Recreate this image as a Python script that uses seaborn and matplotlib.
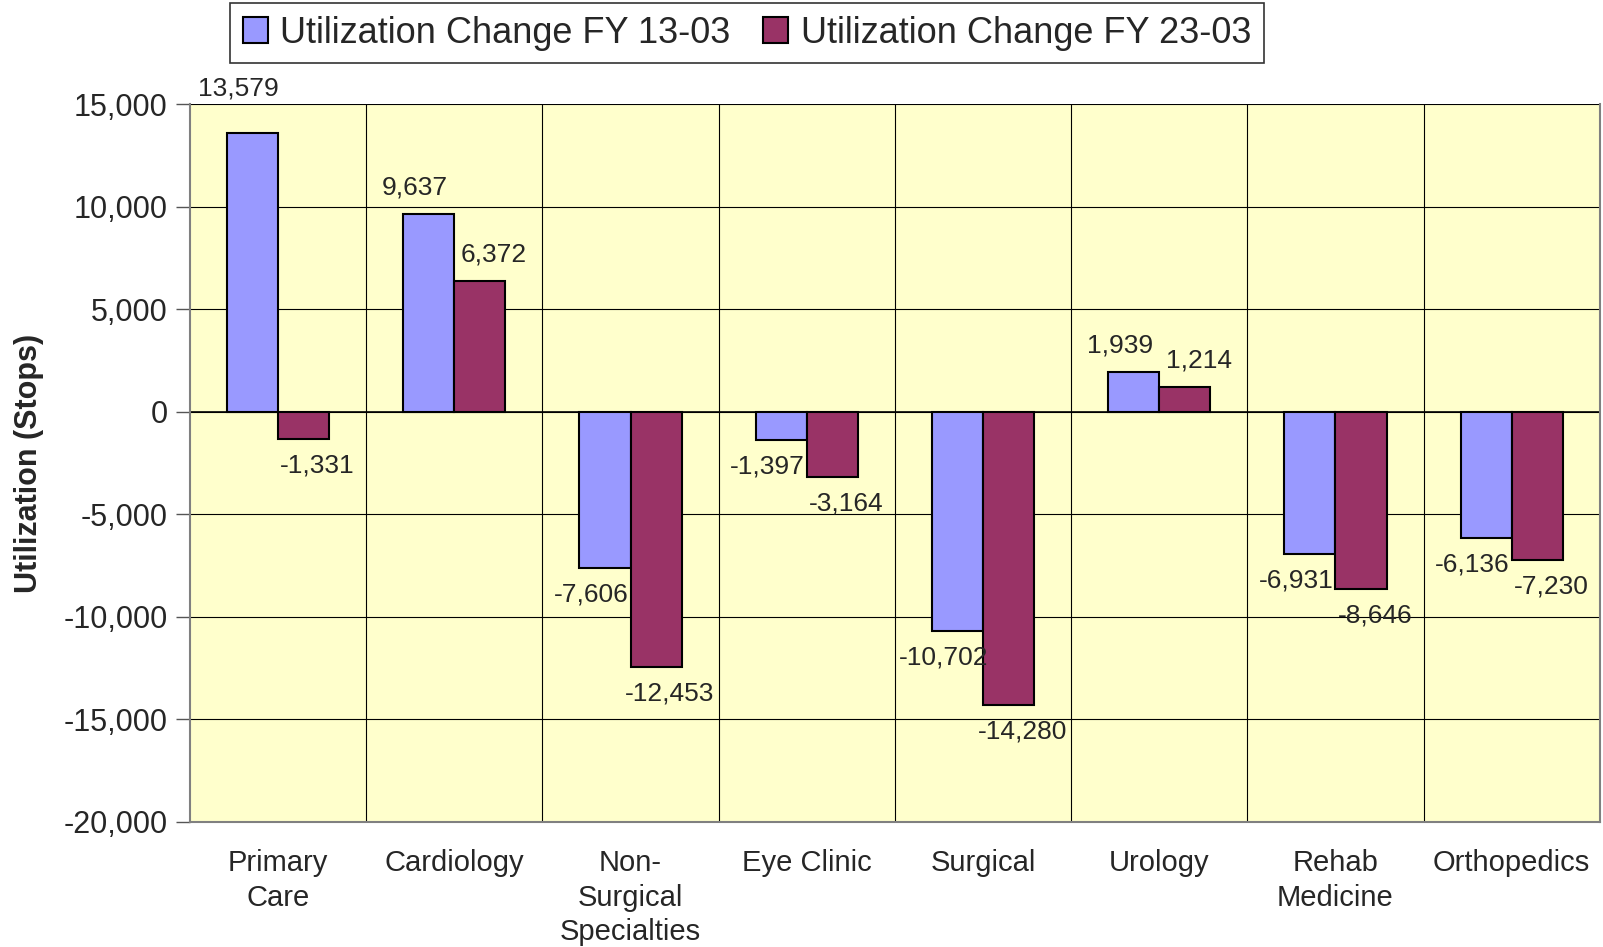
import seaborn as sns
import matplotlib.pyplot as plt
import matplotlib.ticker as mticker
from matplotlib.patches import Patch
import pandas as pd

# Data
categories = ["Primary\nCare", "Cardiology", "Non-\nSurgical\nSpecialties", "Eye Clinic",
              "Surgical", "Urology", "Rehab\nMedicine", "Orthopedics"]
series_names = ["Utilization Change FY 13-03", "Utilization Change FY 23-03"]
change_13_03 = [13579, 9637, -7606, -1397, -10702, 1939, -6931, -6136]
change_23_03 = [-1331, 6372, -12453, -3164, -14280, 1214, -8646, -7230]
colors = ["#9999FF", "#993366"]

data = pd.DataFrame({
    "Category": categories * 2,
    "Series": [series_names[0]] * len(categories) + [series_names[1]] * len(categories),
    "Value": change_13_03 + change_23_03,
})

sns.set_style("white")
plt.rcParams["font.family"] = ["Liberation Sans", "DejaVu Sans"]
plt.rcParams["axes.unicode_minus"] = False

fig = plt.figure(figsize=(16.03, 9.47), dpi=100)
ax = fig.add_axes([0.1185, 0.132, 0.8795, 0.758])
ax.set_facecolor("#FFFFCC")

sns.barplot(data=data, x="Category", y="Value", hue="Series", order=categories,
            hue_order=series_names, palette=colors, saturation=1, width=0.58, gap=0,
            edgecolor="black", linewidth=1.5, legend=False, ax=ax)

ax.set_xlim(-0.5, len(categories) - 0.5)
ax.set_ylim(-20000, 15000)
ax.yaxis.set_major_locator(mticker.MultipleLocator(5000))
ax.yaxis.set_major_formatter(mticker.StrMethodFormatter("{x:,.0f}"))
ax.set_axisbelow(True)
ax.grid(True, axis="y", color="black", linewidth=0.8)
ax.set_xticks([i + 0.5 for i in range(len(categories) - 1)], minor=True)
ax.grid(True, axis="x", which="minor", color="black", linewidth=0.8)
ax.axhline(0, color="black", linewidth=1.2, zorder=1)

ax.tick_params(axis="y", which="major", left=True, length=10, width=1, color="#555555",
               labelsize=22, pad=6)
ax.tick_params(axis="x", which="both", bottom=False, labelsize=21, pad=16)
for lbl in ax.get_xticklabels():
    lbl.set_linespacing(1.3)

for side in ["left", "right", "bottom"]:
    ax.spines[side].set_color("#808080")
    ax.spines[side].set_linewidth(1.5)
ax.spines["top"].set_visible(False)

ax.set_xlabel("")
ax.set_ylabel("Utilization (Stops)", fontsize=22, fontweight="bold", labelpad=14)

# Value labels
for bars, vals, dx in zip(ax.containers, [change_13_03, change_23_03], [-10, 10]):
    for bar, v in zip(bars, vals):
        x = bar.get_x() + bar.get_width() / 2
        if v >= 12000:
            dy = 32  # keep clear of the top edge, as in the original
        elif v >= 0:
            dy = 19
        else:
            dy = -19
        ax.annotate(f"{v:,}", (x, v), xytext=(dx, dy), textcoords="offset points",
                    ha="center", va="center", fontsize=19)

handles = [Patch(facecolor=c, edgecolor="black", linewidth=1.5) for c in colors]
leg = fig.legend(handles, series_names, loc="center", bbox_to_anchor=(0.466, 0.965),
                 ncol=2, fontsize=26, frameon=True, fancybox=False, edgecolor="black",
                 handlelength=0.7, handleheight=0.7, handletextpad=0.35,
                 columnspacing=0.9, borderpad=0.35)
leg.get_frame().set_linewidth(1.2)

fig.savefig("out.png", dpi=100)
plt.close()
